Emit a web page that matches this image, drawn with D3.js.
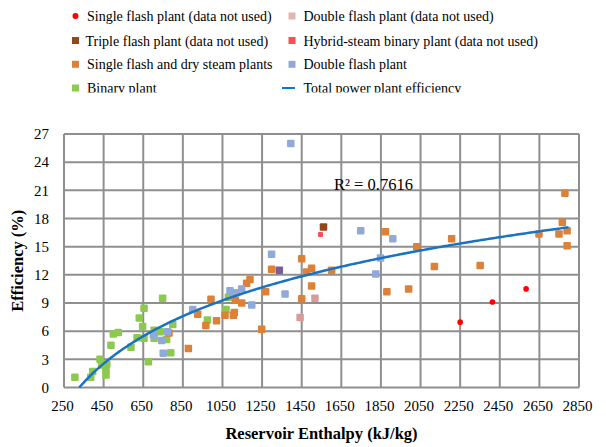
<!DOCTYPE html>
<html><head><meta charset="utf-8">
<script src="https://cdn.jsdelivr.net/npm/d3@7"></script>
<style>body{margin:0;background:#fff}svg{display:block}svg text{font-family:"Liberation Serif","Times New Roman",Times,serif !important;fill:#000}</style>
</head><body><svg id="c" width="606" height="447"></svg>
<script>
// ---- data ----
const xTicks = [250,450,650,850,1050,1250,1450,1650,1850,2050,2250,2450,2650,2850];
const yTicks = [0,3,6,9,12,15,18,21,24,27];
const singleFlashUnusedX = [2250,2413,2583];
const singleFlashUnusedY = [6.96,9.1,10.5];
const doubleFlashUnusedX = [1517,1442];
const doubleFlashUnusedY = [9.5,7.45];
const tripleFlashUnusedX = [1560];
const tripleFlashUnusedY = [17.1];
const hybridUnusedX = [1545];
const hybridUnusedY = [16.3];
const otherPlantX = [1337];
const otherPlantY = [12.5];
const singleDryX = [780,878,925,966,992,1020,1063,1105,1110,1115,1147,1172,1189,1248,1268,1298,1450,1475,1500,1500,1450,1601,1873,2031,2207,2120,2351,2779,2766,2749,2790,2648,2790,1880,1990];
const singleDryY = [5.8,4.15,7.8,6.6,9.4,7.1,7.7,7.7,8.0,9.3,9.0,11.1,11.5,6.2,10.2,12.6,13.7,12.3,12.7,10.8,9.45,12.5,16.6,15.0,15.85,12.9,13.0,20.7,17.6,16.35,16.7,16.35,15.1,10.2,10.5];
const doubleFlashX = [701,743,772,751,900,1088,1105,1147,1198,1366,1298,1395,1748,1910,1848,1824,1120];
const doubleFlashY = [5.6,5.0,5.95,3.65,8.3,10.3,10.0,10.5,8.8,9.95,14.2,26.0,16.7,15.85,13.8,12.1,10.1];
const binaryX = [305,385,395,432,440,466,462,462,487,499,524,588,630,654,619,647,654,676,705,705,748,768,789,799,735,718,974,1068,1080];
const binaryY = [1.1,1.1,1.7,3.0,2.4,2.5,1.87,1.33,4.5,5.7,5.85,4.3,7.4,8.45,5.3,6.5,5.25,2.75,6.1,5.25,9.5,5.1,3.7,6.7,5.95,6.05,7.2,8.3,9.6];
// logarithmic trendline y = a*ln(x) + b, drawn over the fitted range
const trendA = 7.95, trendB = -46.03, trendRange = [327, 2797];
const r2Label = "R² = 0.7616";

const FONT = '"Liberation Serif","Times New Roman",Times,serif';
const svg = d3.select("#c");
const L=64,R=579,T=134,B=387.5;
const x = d3.scaleLinear().domain([250,2850]).range([L,R]);
const y = d3.scaleLinear().domain([0,27]).range([B,T]);
const gridCol = "#8f8f8f";

// grid
const g = svg.append("g");
g.selectAll(".vx").data(xTicks).join("line").attr("x1",d=>x(d)).attr("x2",d=>x(d)).attr("y1",T).attr("y2",B)
  .attr("stroke",gridCol).attr("stroke-width",2);
g.selectAll(".hy").data(yTicks).join("line").attr("y1",d=>y(d)).attr("y2",d=>y(d)).attr("x1",L).attr("x2",R)
  .attr("stroke",gridCol).attr("stroke-width",2);

// axes labels
const xa = svg.append("g").attr("transform",`translate(0,${B})`)
  .call(d3.axisBottom(x).tickValues(xTicks).tickSize(0).tickPadding(13).tickFormat(d3.format("d")));
xa.attr("font-family",FONT).attr("font-size",15);
xa.select(".domain").remove();
xa.selectAll("text").attr("dx","-2").attr("fill","#000");
const ya = svg.append("g").attr("transform",`translate(${L},0)`)
  .call(d3.axisLeft(y).tickValues(yTicks).tickSize(0).tickPadding(15).tickFormat(d3.format("d")));
ya.attr("font-family",FONT).attr("font-size",15);
ya.select(".domain").remove();
ya.selectAll("text").attr("fill","#000");

svg.append("text").attr("x",(L+R)/2).attr("y",439).attr("text-anchor","middle").attr("font-family",FONT)
  .attr("font-size",16.5).attr("font-weight","bold").text("Reservoir Enthalpy (kJ/kg)");
svg.append("text").attr("transform",`translate(23,${(T+B)/2}) rotate(-90)`).attr("text-anchor","middle").attr("font-family",FONT)
  .attr("font-size",16.5).attr("font-weight","bold").text("Efficiency (%)");

// series
function squares(xs, ys, color, size){
  const pts = xs.map((v,i)=>[v,ys[i]]);
  svg.append("g").selectAll("rect").data(pts).join("rect")
    .attr("x",d=>x(d[0])-size/2).attr("y",d=>y(d[1])-size/2).attr("width",size).attr("height",size)
    .attr("rx",1).attr("fill",color);
}
squares(binaryX, binaryY, "#8cc94f", 7.5);
squares(singleDryX, singleDryY, "#dc8138", 7.5);
squares(doubleFlashX, doubleFlashY, "#91a9d6", 7.5);
squares(doubleFlashUnusedX, doubleFlashUnusedY, "#d99a9c", 7.5);
squares(otherPlantX, otherPlantY, "#7b5c97", 7.5);
squares(tripleFlashUnusedX, tripleFlashUnusedY, "#93481a", 7.5);
squares(hybridUnusedX, hybridUnusedY, "#ff4d55", 5);
svg.append("g").selectAll("circle").data(singleFlashUnusedX.map((v,i)=>[v,singleFlashUnusedY[i]])).join("circle")
  .attr("cx",d=>x(d[0])).attr("cy",d=>y(d[1])).attr("r",2.8).attr("fill","#ff0000");

// trendline
const trendX = d3.range(trendRange[0], trendRange[1]+1, 10);
svg.append("path").datum(trendX)
  .attr("d", d3.line().x(d=>x(d)).y(d=>y(trendA*Math.log(d)+trendB)))
  .attr("fill","none").attr("stroke","#1a72c2").attr("stroke-width",2.5);

svg.append("text").attr("x",334).attr("y",189.5).attr("font-family",FONT).attr("font-size",16.5).text(r2Label);

// legend
const legend = [
  {label:"Single flash plant (data not used)", type:"circle", color:"#ff0000", col:0, row:0},
  {label:"Double flash plant (data not used)", type:"rect", color:"#e3b4b6", col:1, row:0},
  {label:"Triple flash plant (data not used)", type:"rect", color:"#93481a", col:0, row:1},
  {label:"Hybrid-steam binary plant (data not used)", type:"rect", color:"#ff4d55", col:1, row:1},
  {label:"Single flash and dry steam plants", type:"rect", color:"#dc8138", col:0, row:2},
  {label:"Double flash plant", type:"rect", color:"#91a9d6", col:1, row:2},
  {label:"Binary plant", type:"rect", color:"#8cc94f", col:0, row:3},
  {label:"Total power plant efficiency", type:"line", color:"#1a72c2", col:1, row:3}
];
svg.append("clipPath").attr("id","lc").append("rect").attr("x",0).attr("y",0).attr("width",606).attr("height",92.5);
const lg = svg.append("g").attr("clip-path","url(#lc)");
const colMark=[75.5,292], colText=[87,303.5], rowY=[16,40.5,64.3,88];
legend.forEach(d=>{
  const cx=colMark[d.col], cy=rowY[d.row];
  if(d.type==="circle") lg.append("circle").attr("cx",cx).attr("cy",cy).attr("r",3).attr("fill",d.color);
  else if(d.type==="rect") lg.append("rect").attr("x",cx-3.5).attr("y",cy-3.5).attr("width",7).attr("height",7).attr("fill",d.color);
  else lg.append("line").attr("x1",cx-10).attr("x2",cx+3).attr("y1",cy).attr("y2",cy).attr("stroke",d.color).attr("stroke-width",2.2);
  lg.append("text").attr("x",colText[d.col]-(d.row===1&&d.col===0?1.5:0)).attr("y",cy+5)
    .attr("font-family",FONT).attr("font-size",14).text(d.label);
});
</script></body></html>
